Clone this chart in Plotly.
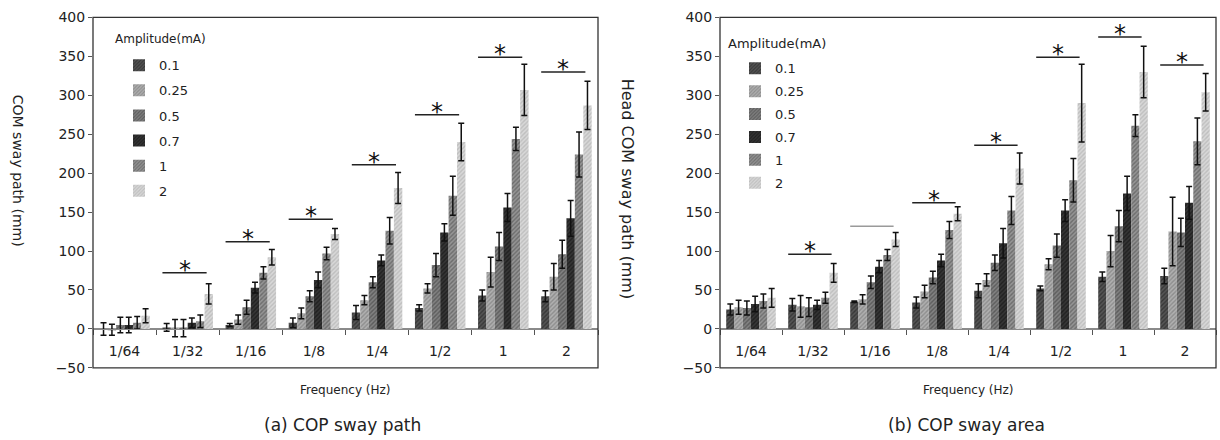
import plotly.graph_objects as go

freq_labels = ["1/64", "1/32", "1/16", "1/8", "1/4", "1/2", "1", "2"]
amplitudes = ["0.1", "0.25", "0.5", "0.7", "1", "2"]

# (a) COP sway path -> COM sway path (mm); one row per frequency, one value per amplitude
path_mean = [
    [0, -1, 5, 5, 8, 17],
    [2, 1, 1, 8, 10, 45],
    [5, 12, 28, 53, 72, 92],
    [8, 20, 42, 63, 97, 122],
    [21, 37, 60, 88, 126, 181],
    [27, 52, 82, 124, 171, 240],
    [43, 73, 106, 156, 244, 307],
    [42, 67, 96, 142, 224, 287],
]
path_err = [
    [8, 7, 10, 10, 8, 9],
    [5, 11, 11, 6, 8, 13],
    [2, 6, 9, 7, 8, 10],
    [6, 7, 7, 10, 8, 7],
    [9, 6, 7, 7, 17, 20],
    [4, 6, 15, 11, 25, 24],
    [7, 19, 18, 18, 15, 33],
    [7, 17, 18, 23, 29, 31],
]
path_sig_freq = ["1/32", "1/16", "1/8", "1/4", "1/2", "1", "2"]
path_sig_level = [72, 112, 141, 211, 275, 349, 330]

# (b) COP sway area -> Head COM sway path (mm)
area_mean = [
    [25, 28, 27, 32, 36, 40],
    [31, 29, 28, 31, 40, 72],
    [35, 38, 60, 80, 95, 115],
    [34, 48, 66, 88, 127, 148],
    [49, 63, 85, 110, 152, 206],
    [52, 83, 107, 152, 191, 290],
    [67, 100, 132, 174, 261, 330],
    [68, 125, 124, 162, 241, 304],
]
area_err = [
    [7, 9, 9, 10, 9, 12],
    [8, 14, 12, 6, 7, 12],
    [1, 6, 8, 8, 7, 9],
    [7, 8, 8, 8, 11, 9],
    [9, 8, 10, 19, 18, 20],
    [3, 7, 15, 14, 28, 50],
    [6, 20, 20, 22, 14, 33],
    [10, 44, 18, 21, 30, 24],
]
area_sig_freq = ["1/32", "1/16", "1/8", "1/4", "1/2", "1", "2"]
area_sig_level = [96, 132, 162, 236, 349, 375, 339]
area_sig_star = [True, False, True, True, True, True, True]

bar_bg = ["#555555", "#b0b0b0", "#828282", "#363636", "#959595", "#d8d8d8"]
bar_fg = ["#1a1a1a", "#6a6a6a", "#353535", "#0a0a0a", "#454545", "#a4a4a4"]

FONT = "DejaVu Sans"
W, H = 1220, 440


def px_x(p):
    return p / W


def px_y(p):
    # compensate the vertical scaling/offset observed in the rendered photo
    q = (p - 6.5) / 0.968
    return 1 - q / H


fig = go.Figure()

panels = [
    dict(mean=path_mean, err=path_err, xa="x", ya="y", legend="legend", tag="L"),
    dict(mean=area_mean, err=area_err, xa="x2", ya="y2", legend="legend2", tag="R"),
]

for p in panels:
    for j, amp in enumerate(amplitudes):
        fig.add_trace(go.Bar(
            x=freq_labels,
            y=[row[j] for row in p["mean"]],
            error_y=dict(type="data", array=[row[j] for row in p["err"]],
                         color="#111111", thickness=1.5, width=3),
            name=amp,
            xaxis=p["xa"], yaxis=p["ya"],
            legend=p["legend"], legendgroup=p["tag"] + amp,
            marker=dict(color=bar_bg[j], line=dict(width=0),
                        pattern=dict(shape="/", fgcolor=bar_fg[j], bgcolor=bar_bg[j],
                                     size=3, solidity=0.45)),
        ))


def add_sig(freqs, levels, stars, xref, yref):
    for f, lv, st in zip(freqs, levels, stars):
        i = freq_labels.index(f)
        fig.add_shape(type="line", xref=xref, yref=yref,
                      x0=i - 0.4, x1=i + 0.3, y0=lv, y1=lv,
                      line=dict(color="#222222" if st else "#9a9a9a", width=1.5))
        if st:
            fig.add_annotation(xref=xref, yref=yref, x=i - 0.05, y=lv,
                               text="*", showarrow=False, yanchor="bottom",
                               yshift=-13, font=dict(size=24, color="#111111",
                                                     family=FONT))


add_sig(path_sig_freq, path_sig_level, [True] * len(path_sig_freq), "x", "y")
add_sig(area_sig_freq, area_sig_level, area_sig_star, "x2", "y2")

TOP, BOT = 16, 368
ydom = [px_y(BOT), px_y(TOP)]
zero_pos = ydom[0] + (ydom[1] - ydom[0]) * 50 / 450

xcommon = dict(type="category", categoryorder="array", categoryarray=freq_labels,
               anchor="free", position=zero_pos, showline=True, linecolor="#8a8a8a",
               linewidth=1, ticks="outside", tickson="boundaries", ticklen=5,
               tickcolor="#555555", showgrid=False,
               tickfont=dict(size=14, family=FONT, color="#222222"),
               ticklabelstandoff=9)
ycommon = dict(range=[-50, 400], dtick=50, tick0=0, ticks="outside", ticklen=4,
               tickcolor="#555555", showgrid=False, zeroline=True,
               zerolinecolor="#8a8a8a", zerolinewidth=1, showline=False,
               tickfont=dict(size=14, family=FONT, color="#222222"), domain=ydom)

LX = [93, 598]
RX = [720, 1216]

fig.update_layout(
    width=W, height=H,
    margin=dict(l=0, r=0, t=0, b=0),
    paper_bgcolor="white", plot_bgcolor="white",
    barmode="group", bargap=0.2, bargroupgap=0,
    font=dict(family=FONT, color="#222222"),
    xaxis=dict(domain=[px_x(LX[0]), px_x(LX[1])], **xcommon),
    xaxis2=dict(domain=[px_x(RX[0]), px_x(RX[1])], **xcommon),
    yaxis=dict(anchor="x", **ycommon),
    yaxis2=dict(anchor="x2", **ycommon),
    legend=dict(x=px_x(119), y=px_y(49), xanchor="left", yanchor="top",
                bgcolor="rgba(0,0,0,0)", font=dict(size=13, family=FONT),
                tracegroupgap=5.2, itemwidth=30),
    legend2=dict(x=px_x(735), y=px_y(52), xanchor="left", yanchor="top",
                 bgcolor="rgba(0,0,0,0)", font=dict(size=13, family=FONT),
                 tracegroupgap=3, itemwidth=30),
    showlegend=True,
)

# frames around plot areas
for x0, x1 in [LX, RX]:
    fig.add_shape(type="rect", xref="paper", yref="paper",
                  x0=px_x(x0), x1=px_x(x1), y0=px_y(BOT), y1=px_y(TOP),
                  line=dict(color="#333333", width=1.3), fillcolor="rgba(0,0,0,0)",
                  layer="above")

texts = [
    ("Amplitude(mA)", 113, 38, 12, 0, "left"),
    ("Amplitude(mA)", 726, 42, 13, 0, "left"),
    ("COM sway path (mm)", 18, 170, 14, 90, "center"),
    ("Head COM sway path (mm)", 627, 188, 16, 90, "center"),
    ("Frequency (Hz)", 345, 390, 12, 0, "center"),
    ("Frequency (Hz)", 968, 390, 12, 0, "center"),
    ("(a) COP sway path", 342, 425, 17, 0, "center"),
    ("(b) COP sway area", 966, 425, 17, 0, "center"),
]
for t, x, y, s, ang, anc in texts:
    fig.add_annotation(xref="paper", yref="paper", x=px_x(x), y=px_y(y), text=t,
                       showarrow=False, textangle=ang, xanchor=anc, yanchor="middle",
                       font=dict(size=s, family=FONT, color="#222222"))

fig.write_html("out.html", config={"displayModeBar": False},
               post_script="document.body.style.margin='0';")
